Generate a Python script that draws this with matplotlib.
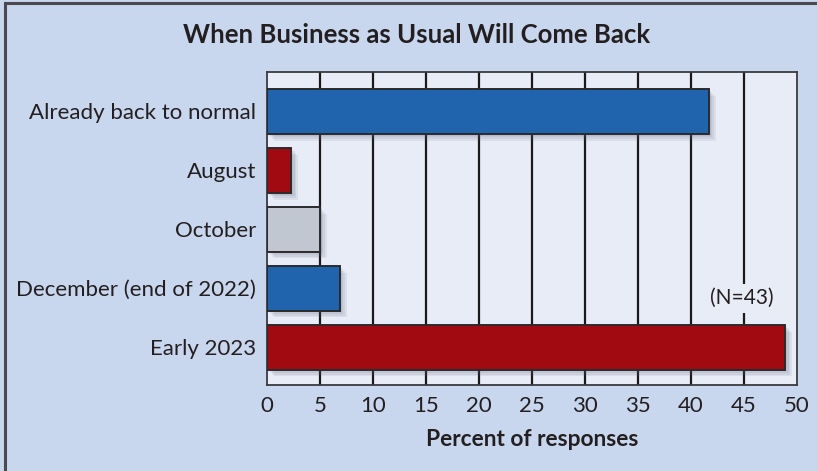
import matplotlib.pyplot as plt
import matplotlib.patheffects as pe
from matplotlib.patches import Rectangle

plt.rcParams['font.family'] = ['Lato', 'DejaVu Sans']

categories = ["Already back to normal", "August", "October",
              "December (end of 2022)", "Early 2023"]
percents = [41.7, 2.3, 5.0, 6.9, 48.9]
bar_colors = ["#2064ad", "#a00a10", "#c0c7d0", "#2064ad", "#a00a10"]
x_ticks = [0, 5, 10, 15, 20, 25, 30, 35, 40, 45, 50]
sample_note = "(N=43)"

W, H = 817, 471
fig = plt.figure(figsize=(W / 100, H / 100), dpi=100)
fig.patch.set_facecolor("#c8d6ee")

# outer frame of the panel
fig.patches.append(Rectangle((5 / W, -0.05), 1.2, 1.05 - 3 / H,
                             transform=fig.transFigure, fill=False,
                             edgecolor="#4a4a4e", linewidth=2.2))

ax = fig.add_axes([267 / W, 1 - 385 / H, 530 / W, (385 - 72) / H])
ax.set_facecolor("#e8ecf7")

shadow = [pe.SimplePatchShadow(offset=(d, -d), shadow_rgbFace="#5a6478", alpha=0.10)
          for d in (1.2, 2.4, 3.6, 4.8)] + [pe.Normal()]

y = range(len(categories))
bars = ax.barh(y, percents, height=0.76, color=bar_colors,
               edgecolor="#2a2a2e", linewidth=1.4, zorder=3)
for b in bars:
    b.set_path_effects(shadow)

ax.set_xlim(0, 50)
ax.set_ylim(4.64, -0.67)
ax.set_xticks(x_ticks)
ax.set_yticks(list(y))
ax.set_yticklabels(categories)
ax.tick_params(axis="both", length=0, labelsize=16, colors="#231f20")
ax.tick_params(axis="y", pad=8)
ax.tick_params(axis="x", pad=8)

for xv in x_ticks[1:-1]:
    ax.axvline(xv, color="#1a1a1a", linewidth=1.6, zorder=1)

for s in ax.spines.values():
    s.set_color("#3a3a3e")
    s.set_linewidth(1.3)

ax.text(44.8, 3.17, sample_note, ha="center", va="center", fontsize=15,
        color="#231f20", zorder=2,
        bbox=dict(boxstyle="square,pad=0.2", facecolor="#e8ecf7", edgecolor="none"))

ax.set_xlabel("Percent of responses", fontsize=16.4, fontweight="bold",
              color="#231f20", labelpad=9)
fig.text(417 / W, 1 - 35 / H, "When Business as Usual Will Come Back",
         ha="center", va="center", fontsize=18.5, fontweight="bold", color="#231f20")

fig.savefig("out.png", dpi=100, facecolor=fig.get_facecolor())
